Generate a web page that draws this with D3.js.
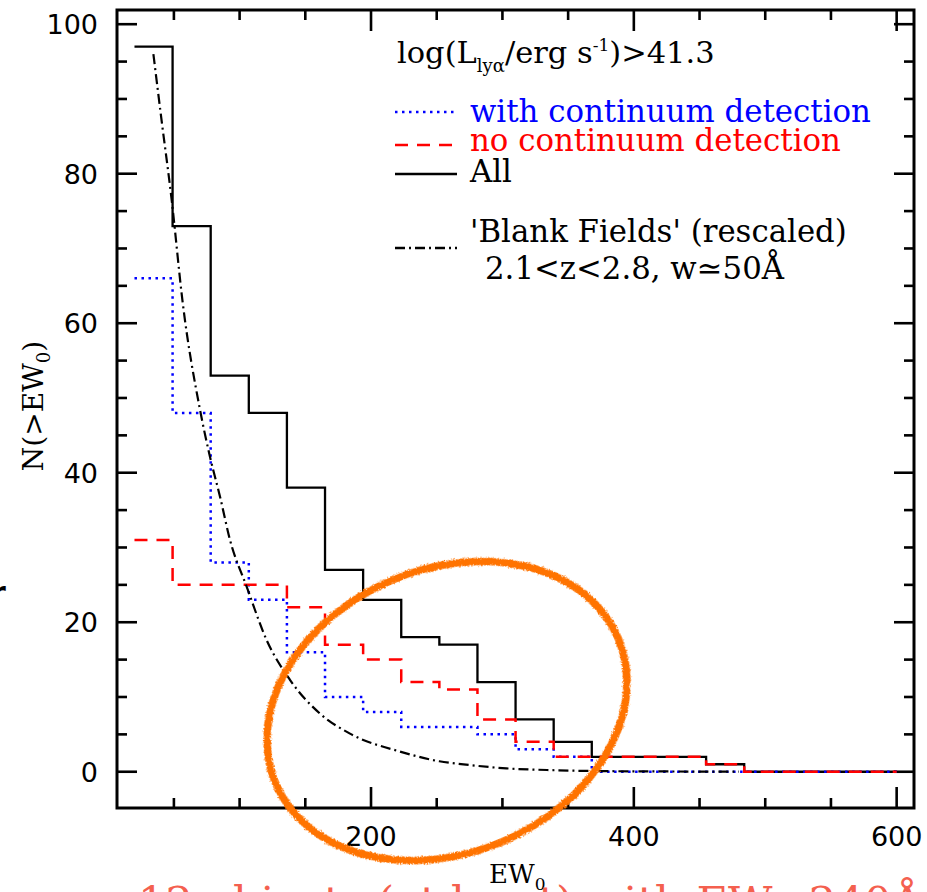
<!DOCTYPE html>
<html>
<head>
<meta charset="utf-8">
<script src="https://cdn.jsdelivr.net/npm/d3@7"></script>
<style>
html,body{margin:0;padding:0;background:#fff;overflow:hidden;}
svg{display:block;}
</style>
</head>
<body>
<svg id="chart" width="927" height="892"></svg>
<script>
// ---------------- data ----------------
const ewEdges = [20,49,78,107,136,165,194,223,252,281,310,339,368,397,426,455,484,513,542,571,600];
const allCounts    = [97,73,53,48,38,27,23,18,17,12,7,4,2,2,2,1,0,0,0,0];
const withContCounts = [66,48,28,23,16,10,8,6,6,5,3,2,0,0,0,0,0,0,0,0];
const noContCounts = [31,25,25,25,22,17,15,12,11,7,4,2,2,2,2,1,0,0,0,0];
const blankEW = [34.4,40,48.3,56.8,69.9,77.5,85.1,92.7,105.5,120.6,138.3,161,184,222,252,275,303,334,368,420,480];
const blankN  = [96,88,76.5,62.6,48.4,42.1,36.8,31.0,24.7,17.6,12.3,7.8,5.1,2.7,1.4,0.9,0.45,0.23,0.1,0.04,0.02];
const xMajorTicks = [200,400,600];
const xMinorTicks = [50,100,150,250,300,350,450,500,550];
const yMajorTicks = [0,20,40,60,80,100];
const yMinorTicks = [5,10,15,25,30,35,45,50,55,65,70,75,85,90,95];

// ---------------- layout ----------------
const svg = d3.select("#chart");
const L = 117, R = 914, T = 10, B = 808;
const x = d3.scaleLinear().domain([6.7, 613.2]).range([L, R]);
const y = d3.scaleLinear().domain([-4.85, 101.9]).range([B, T]);

const black = "#000";
const defs = svg.append("defs");
const f = defs.append("filter").attr("id", "spray").attr("x", "-10%").attr("y", "-10%")
  .attr("width", "120%").attr("height", "120%");
f.append("feTurbulence").attr("type", "fractalNoise").attr("baseFrequency", 0.9)
  .attr("numOctaves", 2).attr("seed", 3).attr("result", "noise");
f.append("feDisplacementMap").attr("in", "SourceGraphic").attr("in2", "noise")
  .attr("scale", 4).attr("xChannelSelector", "R").attr("yChannelSelector", "G");

// frame
svg.append("rect").attr("x", L).attr("y", T).attr("width", R - L).attr("height", B - T)
  .attr("fill", "none").attr("stroke", black).attr("stroke-width", 3);

// ticks
const tg = svg.append("g").attr("stroke", black).attr("stroke-width", 2.6);
xMajorTicks.forEach(v => {
  tg.append("line").attr("x1", x(v)).attr("x2", x(v)).attr("y1", B).attr("y2", B - 21);
  tg.append("line").attr("x1", x(v)).attr("x2", x(v)).attr("y1", T).attr("y2", T + 21);
});
xMinorTicks.forEach(v => {
  tg.append("line").attr("x1", x(v)).attr("x2", x(v)).attr("y1", B).attr("y2", B - 10);
  tg.append("line").attr("x1", x(v)).attr("x2", x(v)).attr("y1", T).attr("y2", T + 10);
});
yMajorTicks.forEach(v => {
  tg.append("line").attr("x1", L).attr("x2", L + 20).attr("y1", y(v)).attr("y2", y(v));
  tg.append("line").attr("x1", R).attr("x2", R - 20).attr("y1", y(v)).attr("y2", y(v));
});
yMinorTicks.forEach(v => {
  tg.append("line").attr("x1", L).attr("x2", L + 10).attr("y1", y(v)).attr("y2", y(v));
  tg.append("line").attr("x1", R).attr("x2", R - 10).attr("y1", y(v)).attr("y2", y(v));
});

// tick labels
const numFont = "DejaVu Sans";
yMajorTicks.forEach(v => {
  svg.append("text").attr("x", 98).attr("y", y(v) + 10).attr("text-anchor", "end")
    .attr("font-family", numFont).attr("font-size", 27).attr("fill", black).text(v);
});
xMajorTicks.forEach(v => {
  svg.append("text").attr("x", x(v)).attr("y", 846).attr("text-anchor", "middle")
    .attr("font-family", numFont).attr("font-size", 27).attr("fill", black).text(v);
});

// axis titles
const serif = "DejaVu Serif";
const yt = svg.append("text").attr("transform", "translate(43,406) rotate(-90)")
  .attr("text-anchor", "middle").attr("font-family", serif).attr("font-size", 28).attr("fill", black);
yt.append("tspan").text("N(>EW");
yt.append("tspan").attr("font-size", 18).attr("dy", 7).text("0");
yt.append("tspan").attr("dy", -7).text(")");

const xt = svg.append("text").attr("x", 489).attr("y", 883)
  .attr("font-family", serif).attr("font-size", 26).attr("fill", black);
xt.append("tspan").text("EW");
xt.append("tspan").attr("font-size", 17).attr("dy", 7).text("0");

// ---------------- step lines ----------------
function stepPts(vals) {
  const pts = vals.map((v, i) => [ewEdges[i], v]);
  pts.push([ewEdges[ewEdges.length - 1], vals[vals.length - 1]]);
  return pts;
}
const stepLine = d3.line().x(d => x(d[0])).y(d => y(d[1])).curve(d3.curveStepAfter);

svg.append("path").attr("d", stepLine(stepPts(allCounts)))
  .attr("fill", "none").attr("stroke", black).attr("stroke-width", 2.3);
svg.append("path").attr("d", stepLine(stepPts(withContCounts)))
  .attr("fill", "none").attr("stroke", "#0000ff").attr("stroke-width", 2.5)
  .attr("stroke-dasharray", "2.5,4.5");
svg.append("path").attr("d", stepLine(stepPts(noContCounts)))
  .attr("fill", "none").attr("stroke", "#ff0000").attr("stroke-width", 2.5)
  .attr("stroke-dasharray", "13,9");

const blankLine = d3.line().x(d => x(d[0])).y(d => y(d[1])).curve(d3.curveMonotoneX);
svg.append("path").attr("d", blankLine(blankEW.map((e, i) => [e, blankN[i]])))
  .attr("fill", "none").attr("stroke", black).attr("stroke-width", 2.2)
  .attr("stroke-dasharray", "10,4,2,4");

// ---------------- legend ----------------
const lt = svg.append("text").attr("x", 397).attr("y", 63)
  .attr("font-family", serif).attr("font-size", 30.5).attr("fill", black);
lt.append("tspan").text("log(L");
lt.append("tspan").attr("font-size", 18).attr("dy", 9).text("lyα");
lt.append("tspan").attr("dy", -9).text("/erg s");
lt.append("tspan").attr("font-size", 17).attr("dy", -12).text("-1");
lt.append("tspan").attr("dy", 12).text(")>41.3");

const legendRows = [
  {label: "with continuum detection", color: "#0000ff", dash: "2.5,4.5", ly: 112, ty: 122},
  {label: "no continuum detection", color: "#ff0000", dash: "13,9", ly: 145, ty: 151},
  {label: "All", color: black, dash: null, ly: 174, ty: 182},
  {label: "'Blank Fields' (rescaled)", color: black, dash: "10,4,2,4", ly: 248, ty: 242}
];
legendRows.forEach(r => {
  const ln = svg.append("line").attr("x1", 395).attr("x2", 457).attr("y1", r.ly).attr("y2", r.ly)
    .attr("stroke", r.color).attr("stroke-width", 2.4);
  if (r.dash) ln.attr("stroke-dasharray", r.dash);
  svg.append("text").attr("x", 470).attr("y", r.ty).attr("font-family", serif)
    .attr("font-size", 30.8).attr("fill", r.color).text(r.label);
});
svg.append("text").attr("x", 485).attr("y", 279).attr("font-family", serif)
  .attr("font-size", 30.8).attr("fill", black).text("2.1<z<2.8, w≃50Å");

// ---------------- annotations ----------------
svg.append("ellipse").attr("cx", 447).attr("cy", 711).attr("rx", 186).attr("ry", 142)
  .attr("transform", "rotate(-23,447,711)")
  .attr("fill", "none").attr("stroke", "#ff7300").attr("stroke-width", 7.5)
  .attr("filter", "url(#spray)");

const note = svg.append("text").attr("x", 138).attr("y", 914)
  .attr("font-family", serif).attr("font-size", 38).attr("fill", "#f4604f")
  .text("12 objects (at least) with EW>240Å");
const w = note.node().getComputedTextLength();
const fs = 38 * 785 / w;
note.attr("font-size", fs).attr("y", 885 + 0.73 * fs);

svg.append("text").attr("x", -9).attr("y", 603).attr("font-family", numFont)
  .attr("font-weight", "bold").attr("font-size", 30).attr("fill", black).text("r");
</script>
</body>
</html>
